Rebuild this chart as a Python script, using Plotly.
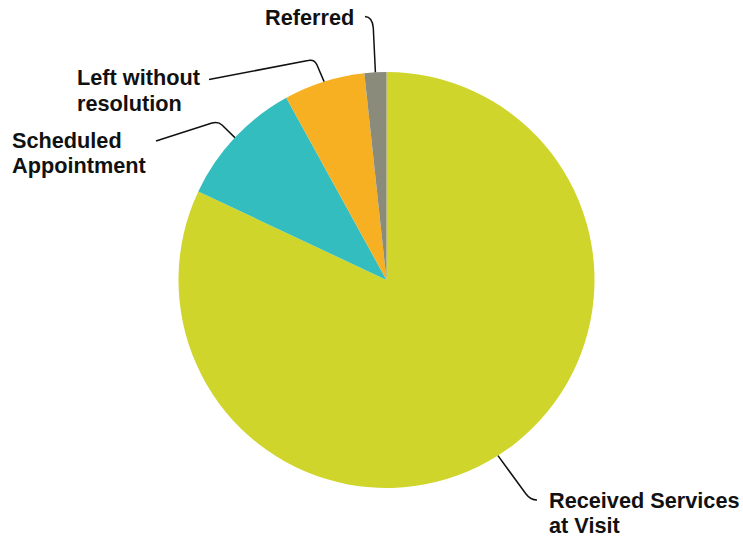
import math
import plotly.graph_objects as go

# Outcome of visits (share of visits, %)
categories = ["Received Services at Visit", "Scheduled Appointment",
              "Left without resolution", "Referred"]
values = [82.0, 10.0, 6.3, 1.7]
label_text = ["Received Services<br>at Visit", "Scheduled<br>Appointment",
              "Left without<br>resolution", "Referred"]

colors = ["#CFD52B", "#33BDBE", "#F6B021", "#8B8B7B"]

W, H = 743, 540
CX, CY, R = 386.5, 280.0, 208.0

# Callout styling in pixels: leader bend, leader end and text block placement
callout_style = {
    "Received Services at Visit": dict(a=(526, 494), k=(530.5, 500), c=(537, 500), e=(537, 500),
                                       tx=547, ty=500),
    "Scheduled Appointment": dict(a=(222, 125), k=(218.5, 121.5), c=(212, 123), e=(156, 141),
                                  tx=10, ty=140),
    "Left without resolution": dict(a=(317, 65), k=(314.5, 59), c=(308, 60.5), e=(209, 79.5),
                                    tx=75, ty=78),
    "Referred": dict(a=(373.3, 28), k=(372.5, 17), c=(365, 16.5), e=(365, 16.5),
                     tx=263, ty=18),
}
LINE_GAP = 25
FONT = dict(family="Liberation Sans, Arial, sans-serif", size=21.7, color="#111111")


def px(x, y):
    return x / W, 1 - y / H


fig = go.Figure(go.Pie(
    labels=categories,
    values=values,
    sort=False,
    direction="clockwise",
    rotation=0,
    marker=dict(colors=colors, line=dict(width=0)),
    textinfo="none",
    hoverinfo="label+percent",
    domain=dict(x=[(CX - R) / W, (CX + R) / W], y=[(H - CY - R) / H, (H - CY + R) / H]),
    showlegend=False,
))

shapes = []
annotations = []
total = sum(values)
cum = 0.0
for cat, val, txt in zip(categories, values, label_text):
    mid = (cum + val / 2) / total * 2 * math.pi
    cum += val
    sx, sy = CX + R * math.sin(mid), CY - R * math.cos(mid)
    st = callout_style[cat]
    pts = [(sx, sy), st["a"], st["k"], st["c"], st["e"]]
    p = [px(*q) for q in pts]
    path = (f"M {p[0][0]},{p[0][1]} L {p[1][0]},{p[1][1]} "
            f"Q {p[2][0]},{p[2][1]} {p[3][0]},{p[3][1]} L {p[4][0]},{p[4][1]}")
    shapes.append(dict(type="path", xref="paper", yref="paper", path=path,
                       line=dict(color="#111111", width=1.5)))
    for i, line in enumerate(txt.split("<br>")):
        x, y = px(st["tx"], st["ty"] + i * LINE_GAP)
        annotations.append(dict(text=f"<b>{line}</b>", x=x, y=y, xref="paper", yref="paper",
                                xanchor="left", yanchor="middle", showarrow=False,
                                font=FONT, align="left"))

fig.update_layout(
    width=W, height=H,
    margin=dict(l=0, r=0, t=0, b=0),
    paper_bgcolor="white",
    plot_bgcolor="white",
    shapes=shapes,
    annotations=annotations,
)

fig.write_html("out.html")
